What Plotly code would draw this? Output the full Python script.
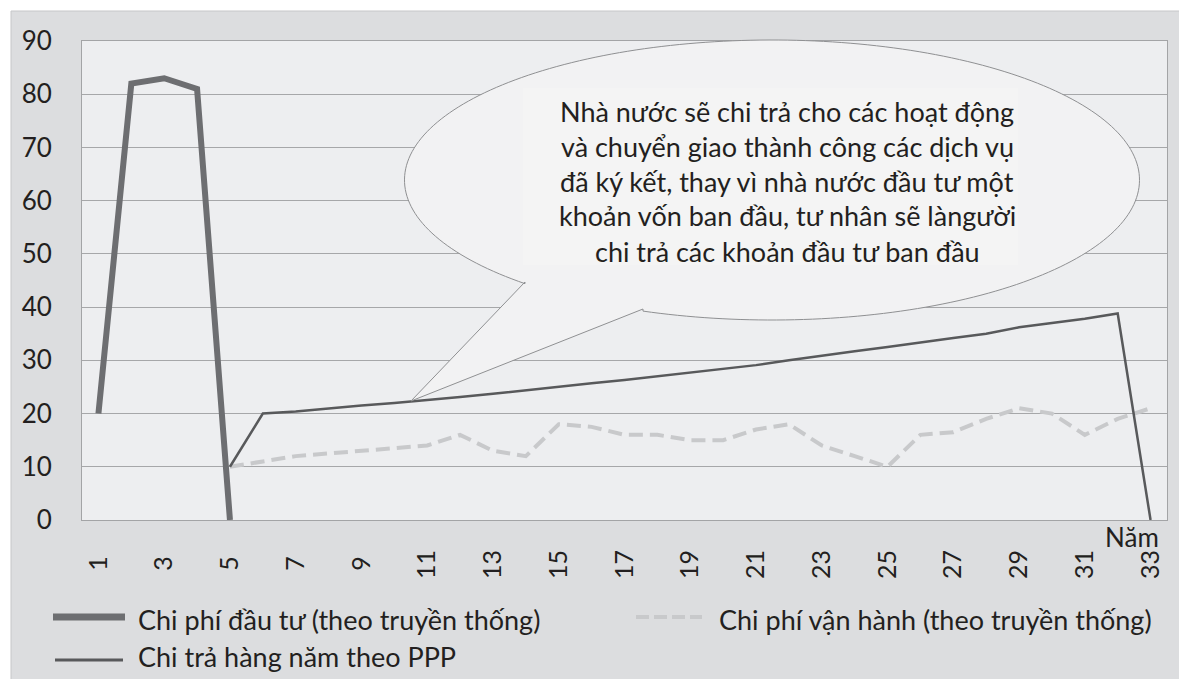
import numpy as np
import plotly.graph_objects as go

# ---------------- data ----------------
years = list(range(1, 34))
tick_years = list(range(1, 34, 2))

invest_years = [1, 2, 3, 4, 5]
invest_values = [20, 82, 83, 81, 0]

op_years = list(range(5, 34))
op_values = [10, 11, 12, 12.5, 13, 13.5, 14, 16, 13, 12, 18, 17.5, 16, 16, 15, 15,
             17, 18, 14, 12, 10, 16, 16.5, 19, 21, 20, 16, 19, 21]

ppp_years = list(range(5, 34))
ppp_values = [10, 20, 20.4, 21, 21.5, 22, 22.5, 23.1, 23.7, 24.4, 25.1, 25.7, 26.3, 27,
              27.8, 28.4, 29.1, 30, 30.9, 31.7, 32.5, 33.4, 34.2, 35, 36.2, 37, 37.8, 38.8, 0]

series_names = ["Chi phí đầu tư (theo truyền thống)",
                "Chi phí vận hành (theo truyền thống)",
                "Chi trả hàng năm theo PPP"]
x_title = "Năm"
callout_lines = ["Nhà nước sẽ chi trả cho các hoạt động",
                 "và chuyển giao thành công các dịch vụ",
                 "đã ký kết, thay vì nhà nước đầu tư một",
                 "khoản vốn ban đầu, tư nhân sẽ làngười",
                 "chi trả các khoản đầu tư ban đầu"]

# ---------------- layout geometry (page pixels) ----------------
OFF = 8  # default page body margin
W, H = 1187 - OFF, 679 - OFF
PL, PR, PT, PB = 82, 1167, 41, 520
FONT = "Lato"
TXT = "#231f20"
C_INV, C_OP, C_PPP = "#6d6e71", "#c8c9cb", "#58595b"


def px(x):
    return (x - PL) / (PR - PL)


def py(y):
    return (PB - y) / (PB - PT)


tick_text = [(str(v) + "\u2005") if v < 10 else str(v) for v in tick_years]

fig = go.Figure()
fig.add_trace(go.Scatter(x=invest_years, y=invest_values, mode="lines", name=series_names[0],
                         line=dict(color=C_INV, width=6), showlegend=False))
fig.add_trace(go.Scatter(x=op_years, y=op_values, mode="lines", name=series_names[1],
                         line=dict(color=C_OP, width=4, dash="14px,7px"), showlegend=False))
fig.add_trace(go.Scatter(x=ppp_years, y=ppp_values, mode="lines", name=series_names[2],
                         line=dict(color=C_PPP, width=2.5), showlegend=False))

shapes = []
# outer grey panel
shapes.append(dict(type="rect", xref="paper", yref="paper", layer="below",
                   x0=px(11), x1=px(1200), y0=py(700), y1=py(11),
                   fillcolor="#dcdddf", line=dict(color="#c6c7c9", width=1)))
# plot area fill
shapes.append(dict(type="rect", xref="paper", yref="paper", layer="below",
                   x0=0, x1=1, y0=0, y1=1, fillcolor="#edeef0", line=dict(width=0)))

# speech bubble
cx, cy, ra, rb = 772, 180, 367.5, 140
A = (643, 309)
tip = (411, 401)
Cpt = (525, 282)
tA = np.arccos((A[0] - cx) / ra)
tC = np.arccos((Cpt[0] - cx) / ra)
ts = np.linspace(tC, 2 * np.pi + tA, 240)
pts = [A, tip, Cpt] + [(cx + ra * np.cos(t), cy + rb * np.sin(t)) for t in ts]
path = "M " + " L ".join(f"{px(x):.5f},{py(y):.5f}" for x, y in pts) + " Z"
shapes.append(dict(type="path", xref="paper", yref="paper", layer="above", path=path,
                   fillcolor="#f2f2f3", line=dict(color="#8f9092", width=1)))
shapes.append(dict(type="rect", xref="paper", yref="paper", layer="above",
                   x0=px(523), x1=px(1018), y0=py(265), y1=py(88),
                   fillcolor="#f4f4f4", line=dict(width=0)))

# legend samples
shapes.append(dict(type="line", xref="paper", yref="paper", layer="above",
                   x0=px(53), x1=px(125), y0=py(617), y1=py(617),
                   line=dict(color=C_INV, width=7)))
shapes.append(dict(type="line", xref="paper", yref="paper", layer="above",
                   x0=px(636), x1=px(702), y0=py(617), y1=py(617),
                   line=dict(color=C_OP, width=4, dash="13px,5px")))
shapes.append(dict(type="line", xref="paper", yref="paper", layer="above",
                   x0=px(55), x1=px(123), y0=py(660), y1=py(660),
                   line=dict(color=C_PPP, width=3)))

annotations = []
for i, line in enumerate(callout_lines):
    annotations.append(dict(xref="paper", yref="paper", x=px(787), y=py(111 + 35 * i),
                            text=line, showarrow=False, xanchor="center", yanchor="middle",
                            font=dict(family=FONT, size=27, color=TXT)))
annotations.append(dict(xref="paper", yref="paper", x=px(1132), y=py(537), text=x_title,
                        showarrow=False, xanchor="center", yanchor="middle",
                        font=dict(family=FONT, size=26, color=TXT)))
legend_pos = [(136, 619), (717, 619), (136, 656)]
for k, (lx, ly) in enumerate(legend_pos):
    annotations.append(dict(xref="paper", yref="paper", x=px(lx), y=py(ly), text=series_names[k],
                            showarrow=False, xanchor="left", yanchor="middle",
                            font=dict(family=FONT, size=27, color=TXT)))

fig.update_layout(
    width=W, height=H,
    margin=dict(l=PL - OFF, r=1187 - PR, t=PT - OFF, b=679 - PB, pad=0),
    paper_bgcolor="white", plot_bgcolor="rgba(0,0,0,0)",
    font=dict(family=FONT, size=26, color=TXT),
    shapes=shapes, annotations=annotations, showlegend=False,
    xaxis=dict(range=[0.5, 33.5], tickvals=tick_years, ticktext=tick_text, tickangle=-90,
               showgrid=False, zeroline=False, showline=True, linecolor="#a3a4a6", linewidth=1,
               mirror=True, ticks="outside", ticklen=19, tickcolor="rgba(0,0,0,0)",
               tickfont=dict(family=FONT, size=25, color=TXT)),
    yaxis=dict(range=[0, 90], dtick=10, showgrid=True, gridcolor="#a6a7a9", gridwidth=1,
               zeroline=False, showline=True, linecolor="#a3a4a6", linewidth=1, mirror=True,
               ticks="outside", ticklen=24, tickcolor="rgba(0,0,0,0)",
               tickfont=dict(family=FONT, size=26, color=TXT)),
)

fig.write_html("out.html")
